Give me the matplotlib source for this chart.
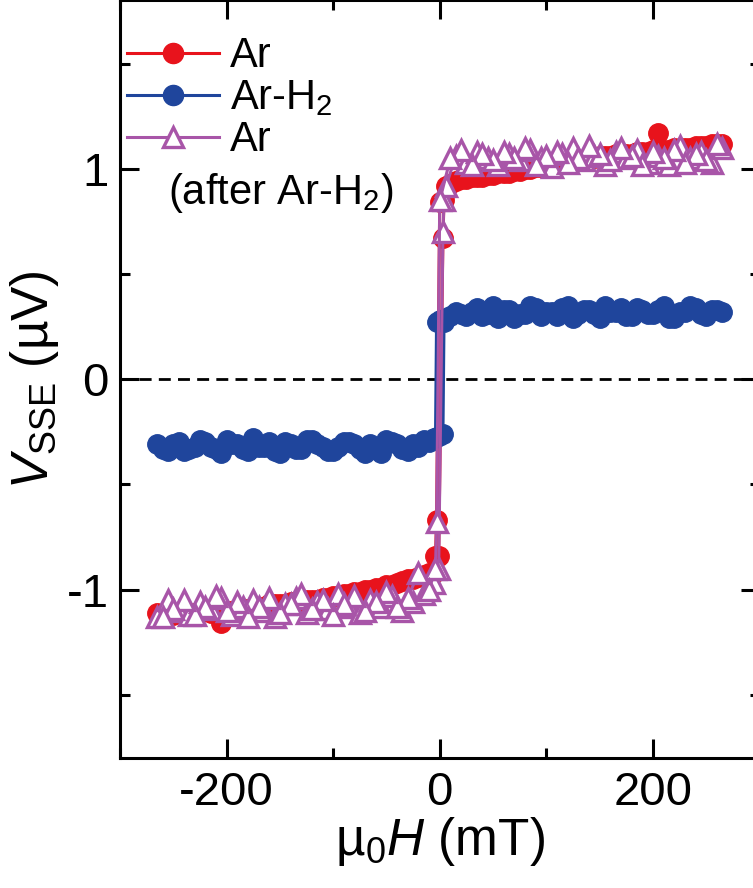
import matplotlib
matplotlib.use("Agg")
import matplotlib.pyplot as plt
from matplotlib.lines import Line2D

plt.rcParams["font.family"] = ["Liberation Sans", "DejaVu Sans"]
plt.rcParams["mathtext.fontset"] = "custom"
plt.rcParams["mathtext.rm"] = "Liberation Sans"
plt.rcParams["mathtext.it"] = "Liberation Sans:italic"
plt.rcParams["mathtext.bf"] = "Liberation Sans:bold"

# field sweeps (mT): up sweep (- to +) and down sweep (+ to -)
H_UP = [-265, -255, -245, -235, -225, -215, -205, -195, -185, -175, -165, -155, -145, -135,
        -125, -115, -105, -95, -85, -75, -65, -55, -45, -35, -25, -15, -5, -1, 3, 4,
        6, 15, 25, 35, 45, 55, 65, 75, 85, 95, 105, 115, 125, 135, 145, 155, 165, 175,
        185, 195, 205, 215, 225, 235, 245, 255, 265]
H_DOWN = [260, 250, 240, 230, 220, 210, 200, 190, 180, 170, 160, 150, 140, 130, 120, 110,
          100, 90, 80, 70, 60, 50, 40, 30, 20, 10, 0, -3, -4,
          -10, -20, -30, -40, -50, -60, -70, -80, -90, -100, -110, -120, -130, -140, -150,
          -160, -170, -180, -190, -200, -210, -220, -230, -240, -250, -260]

# Ar (red)
AR_UP = [-1.11, -1.12, -1.11, -1.11, -1.10, -1.11, -1.16, -1.10, -1.09, -1.09, -1.08, -1.07,
         -1.07, -1.06, -1.05, -1.05, -1.04, -1.03, -1.02, -1.01, -1.00, -0.99, -0.98, -0.96,
         -0.95, -0.93, -0.92, -0.84, 0.67, 0.85,
         0.92, 0.94, 0.95, 0.96, 0.97, 0.98, 0.98, 0.99, 1.00, 1.01, 1.02, 1.03, 1.04, 1.04,
         1.05, 1.06, 1.07, 1.07, 1.08, 1.08, 1.17, 1.09, 1.10, 1.10, 1.11, 1.12, 1.12]
AR_DOWN = [1.12, 1.11, 1.11, 1.10, 1.10, 1.09, 1.09, 1.08, 1.07, 1.07, 1.06, 1.06, 1.05,
           1.04, 1.03, 1.02, 1.02, 1.01, 1.00, 0.99, 0.98, 0.97, 0.96, 0.96, 0.95, 0.93,
           0.84, -0.67, -0.84,
           -0.92, -0.94, -0.95, -0.97, -0.98, -0.99, -1.00, -1.01, -1.02, -1.03, -1.04,
           -1.05, -1.06, -1.06, -1.07, -1.07, -1.08, -1.09, -1.09, -1.10, -1.10, -1.10,
           -1.11, -1.11, -1.12, -1.12]

# Ar-H2 (blue)
ARH2_UP = [-0.31, -0.34, -0.30, -0.33, -0.29, -0.32, -0.35, -0.31, -0.33, -0.28, -0.32,
           -0.34, -0.30, -0.33, -0.29, -0.31, -0.34, -0.32, -0.30, -0.33, -0.31, -0.35,
           -0.30, -0.33, -0.31, -0.29, -0.28, -0.27, -0.26, 0.27,
           0.29, 0.32, 0.30, 0.34, 0.31, 0.29, 0.33, 0.31, 0.35, 0.30, 0.32, 0.34, 0.29,
           0.33, 0.31, 0.35, 0.32, 0.30, 0.34, 0.31, 0.33, 0.29, 0.32, 0.35, 0.31, 0.33, 0.32]
ARH2_DOWN = [0.33, 0.30, 0.34, 0.32, 0.29, 0.35, 0.31, 0.33, 0.30, 0.34, 0.32, 0.29, 0.33,
             0.31, 0.35, 0.30, 0.32, 0.34, 0.31, 0.29, 0.33, 0.35, 0.30, 0.32, 0.31, 0.30,
             0.28, 0.27, -0.28,
             -0.30, -0.32, -0.34, -0.31, -0.29, -0.33, -0.35, -0.31, -0.30, -0.34, -0.32,
             -0.29, -0.33, -0.31, -0.35, -0.30, -0.32, -0.34, -0.31, -0.29, -0.33, -0.30,
             -0.32, -0.34, -0.31, -0.33]

# Ar after Ar-H2 (purple)
ARA_UP = [-1.13, -1.05, -1.10, -1.12, -1.06, -1.09, -1.04, -1.12, -1.08, -1.05, -1.10,
          -1.13, -1.07, -1.04, -1.11, -1.06, -1.09, -1.02, -1.08, -1.11, -1.05, -1.08,
          -1.03, -1.10, -1.06, -1.02, -0.97, -0.90, 0.70, 0.85,
          0.92, 1.06, 1.03, 1.08, 1.05, 1.02, 1.07, 1.04, 1.09, 1.05, 1.01, 1.07, 1.10,
          1.04, 1.06, 1.02, 1.08, 1.05, 1.09, 1.03, 1.06, 1.02, 1.11, 1.05, 1.08, 1.03, 1.10]
ARA_DOWN = [1.12, 1.04, 1.07, 1.03, 1.09, 1.05, 1.08, 1.02, 1.06, 1.10, 1.04, 1.07, 1.11,
            1.05, 1.03, 1.08, 1.06, 1.02, 1.10, 1.05, 1.08, 1.04, 1.07, 1.02, 1.09, 1.05,
            0.85, -0.68, -0.90,
            -1.00, -0.92, -1.04, -1.08, -1.01, -1.06, -1.10, -1.03, -1.07, -1.12, -1.05,
            -1.09, -1.02, -1.07, -1.11, -1.04, -1.08, -1.13, -1.06, -1.10, -1.03, -1.08,
            -1.12, -1.05, -1.09, -1.13]

X_TICKS = [-200, 0, 200]
X_TICKLABELS = ["-200", "0", "200"]
Y_TICKS = [-1, 0, 1]
Y_TICKLABELS = ["-1", "0", "1"]

RED = "#e8131c"
BLUE = "#1f459c"
PURPLE = "#a855a8"

fig = plt.figure(figsize=(7.53, 8.88), dpi=100)
ax = fig.add_axes([120 / 753, 130 / 888, 639.5 / 753, 757.5 / 888])

ax.axhline(0, color="k", lw=2.0, ls=(0, (4.3, 2.6)), zorder=1)

red_kw = dict(color=RED, marker="o", ms=14, mec=RED, lw=2.2, zorder=2)
blue_kw = dict(color=BLUE, marker="o", ms=14, mec=BLUE, lw=2.2, zorder=3)
purple_kw = dict(color=PURPLE, marker="^", ms=14.5, mfc="white", mec=PURPLE, mew=2.4,
                 lw=2.2, zorder=4)

ax.plot(H_UP, AR_UP, **red_kw)
ax.plot(H_DOWN, AR_DOWN, **red_kw)
ax.plot(H_UP, ARH2_UP, **blue_kw)
ax.plot(H_DOWN, ARH2_DOWN, **blue_kw)
ax.plot(H_UP, ARA_UP, **purple_kw)
ax.plot(H_DOWN, ARA_DOWN, **purple_kw)

ax.set_xlim(-300, 300)
ax.set_ylim(-1.8, 1.8)
ax.set_xticks(X_TICKS)
ax.set_xticklabels(X_TICKLABELS)
ax.set_xticks([-300, -100, 100, 300], minor=True)
ax.set_yticks(Y_TICKS)
ax.set_yticklabels(Y_TICKLABELS)
ax.set_yticks([-1.5, -0.5, 0.5, 1.5], minor=True)

ax.tick_params(which="both", direction="in", top=True, right=True, width=2.2,
               labelsize=34)
ax.tick_params(which="major", length=14)
ax.tick_params(which="minor", length=7)
ax.tick_params(axis="x", pad=9)
ax.tick_params(axis="y", pad=8)
for s in ax.spines.values():
    s.set_linewidth(2.2)

ax.set_xlabel(r"µ$_0$$H$ (mT)", fontsize=37, labelpad=0)
ax.set_ylabel(r"$V_{\mathrm{SSE}}$ (µV)", fontsize=37, labelpad=4)

handles = [
    Line2D([], [], color=RED, marker="o", ms=14.5, lw=2.2),
    Line2D([], [], color=BLUE, marker="o", ms=14.5, lw=2.2),
    Line2D([], [], color=PURPLE, marker="^", ms=15, mfc="white", mec=PURPLE,
           mew=2.4, lw=2.2),
]
ax.legend(handles, ["Ar", r"Ar-H$_2$", "Ar"], loc="upper left",
          bbox_to_anchor=(0.011, 0.953), frameon=False, fontsize=30,
          handlelength=2.2, handletextpad=0.26, labelspacing=0.05,
          borderpad=0, borderaxespad=0)
ax.text(0.075, 0.732, r"(after Ar-H$_2$)", transform=ax.transAxes, fontsize=30,
        ha="left", va="baseline")

fig.savefig("out.png", dpi=100)
